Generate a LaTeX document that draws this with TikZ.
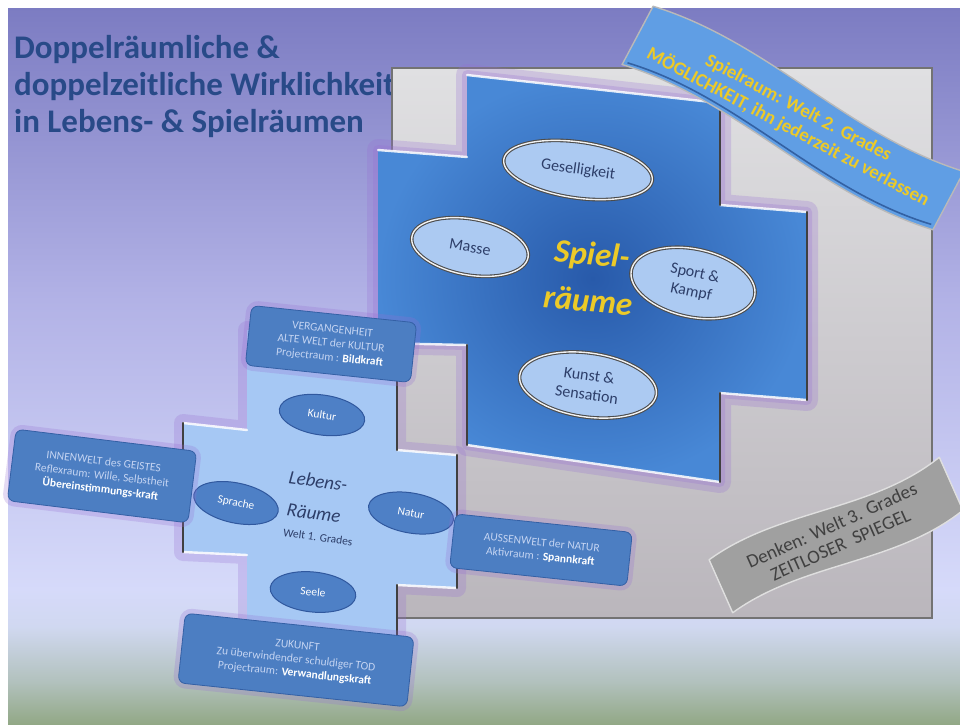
\documentclass[tikz,border=0pt]{standalone}
\usepackage{fontspec}
\setmainfont{Carlito}
\usetikzlibrary{positioning, shapes.geometric, calc}
\definecolor{bgA}{RGB}{124,124,194}
\definecolor{bgB}{RGB}{178,178,230}
\definecolor{bgC}{RGB}{214,218,250}
\definecolor{bgD}{RGB}{208,216,240}
\definecolor{bgE}{RGB}{176,192,186}
\definecolor{bgF}{RGB}{146,168,134}
\definecolor{sqtop}{RGB}{224,224,226}
\definecolor{sqbot}{RGB}{186,182,188}
\definecolor{spblue}{RGB}{72,136,214}
\definecolor{spdark}{RGB}{40,90,170}
\definecolor{lbblue}{RGB}{166,200,244}
\definecolor{ovblue}{RGB}{172,202,242}
\definecolor{ovink}{RGB}{45,62,105}
\definecolor{lbfill}{RGB}{78,128,198}
\definecolor{lbline}{RGB}{48,88,158}
\definecolor{boxfill}{RGB}{76,126,194}
\definecolor{boxline}{RGB}{52,96,165}
\definecolor{boxtext}{RGB}{196,212,242}
\definecolor{haze}{RGB}{150,110,210}
\definecolor{ttlblue}{RGB}{40,74,136}
\definecolor{yel}{RGB}{236,202,40}
\definecolor{banblue}{RGB}{96,158,228}
\definecolor{bangray}{RGB}{160,160,160}
\tikzset{
  ttl/.style={anchor=base west,text=ttlblue,
    font=\fontsize{33}{37}\selectfont\bfseries,inner sep=0pt},
  spov/.style={ellipse,draw=black!70,double=gray!10,double distance=1.4pt,
    line width=1.1pt,fill=ovblue,text=ovink,align=center,inner sep=0pt,
    font=\fontsize{16}{19}\selectfont},
  lbov/.style={ellipse,draw=lbline,line width=1pt,fill=lbfill,text=white,
    align=center,inner sep=0pt,font=\fontsize{11.5}{12}\selectfont,
    minimum width=86pt,minimum height=40pt},
  infobox/.style={rectangle,rounded corners=7pt,draw=boxline,line width=.8pt,
    fill=boxfill,text=boxtext,align=center,font=\fontsize{11.5}{14}\selectfont,
    inner sep=4pt,preaction={draw=haze,line width=10pt,opacity=.25}},
  glowline/.style={draw=haze,line width=#1,opacity=.25,line join=round},
  bevel/.style={white,line width=2.4pt,opacity=.85,line cap=round},
  shadowedge/.style={black!75,line width=2.2pt,line cap=round},
  banner/.style={line width=1.4pt,line join=round}
}
\begin{document}
\begin{tikzpicture}[x=1pt,y=-1pt]
\useasboundingbox (0,0) rectangle (960,724);
\fill[white] (0,0) rectangle (960,724);
\shade[top color=bgA,bottom color=bgB] (8,8) rectangle (960,300);
\shade[top color=bgB,bottom color=bgC] (8,299) rectangle (960,590);
\shade[top color=bgC,bottom color=bgD] (8,589) rectangle (960,628);
\shade[top color=bgD,bottom color=bgE] (8,627) rectangle (960,685);
\shade[top color=bgE,bottom color=bgF] (8,684) rectangle (960,724);

\node[ttl] (title1) at (14,58) {Doppelräumliche \&};
\node[ttl] (title2) at (14,95) {doppelzeitliche Wirklichkeit};
\node[ttl] (title3) at (14,132) {in Lebens- \& Spielräumen};

% grey mirror square
\shade[top color=sqtop,bottom color=sqbot,draw=black!55,line width=1.2pt]
  (392,68) rectangle (932,618);

% Spielraeume cross
\path[glowline=22pt] (467,75) -- (720,103) -- (720,205) -- (807,212) -- (807,400) -- (720,393) -- (720,482)
  -- (467,445) -- (467,345) -- (378,343) -- (378,150) -- (467,157) -- cycle;
\path[glowline=10pt] (467,75) -- (720,103) -- (720,205) -- (807,212) -- (807,400) -- (720,393) -- (720,482)
  -- (467,445) -- (467,345) -- (378,343) -- (378,150) -- (467,157) -- cycle;
\shade[inner color=spdark,outer color=spblue] (467,75) -- (720,103) -- (720,205) -- (807,212) -- (807,400)
  -- (720,393) -- (720,482) -- (467,445) -- (467,345) -- (378,343) -- (378,150) -- (467,157) -- cycle;
\draw[bevel] (467,75) -- (720,103);
\draw[bevel] (378,150) -- (467,157);
\draw[bevel] (720,205) -- (807,212);
\draw[bevel] (378,343) -- (467,345);
\draw[bevel] (720,393) -- (807,400);
\draw[bevel] (467,445) -- (720,482);
\draw[shadowedge] (720,103) -- (720,205);
\draw[shadowedge] (807,212) -- (807,400);
\draw[shadowedge] (720,393) -- (720,482);
\draw[shadowedge] (467,345) -- (467,445);

\node[spov,minimum width=150pt,minimum height=56pt,rotate=-8] (gesel) at (578,170) {Geselligkeit};
\node[spov,minimum width=118pt,minimum height=56pt,rotate=-10] (masse) at (470,247) {Masse};
\node[spov,minimum width=126pt,minimum height=68pt,rotate=-12] (sport) at (693,283) {Sport \&\\Kampf};
\node[spov,minimum width=138pt,minimum height=64pt,rotate=-8] (kunst) at (588,385) {Kunst \&\\Sensation};
\node[text=yel,font=\fontsize{33}{47}\selectfont\bfseries\itshape,align=center,rotate=-5] (spiel) at (590,277) {Spiel-\\räume};

% Lebensraeume cross
\path[glowline=18pt] (247,330) -- (397,345) -- (397,450) -- (457,455) -- (457,588) -- (397,585) -- (397,680)
  -- (247,665) -- (247,555) -- (183,552) -- (183,423) -- (247,430) -- cycle;
\fill[lbblue] (247,330) -- (397,345) -- (397,450) -- (457,455) -- (457,588) -- (397,585) -- (397,680)
  -- (247,665) -- (247,555) -- (183,552) -- (183,423) -- (247,430) -- cycle;
\draw[bevel] (183,423) -- (247,430);
\draw[bevel] (397,450) -- (457,455);
\draw[bevel] (183,552) -- (247,555);
\draw[bevel] (397,585) -- (457,588);
\draw[shadowedge] (397,345) -- (397,450);
\draw[shadowedge] (457,455) -- (457,588);
\draw[shadowedge] (397,585) -- (397,680);
\draw[shadowedge] (183,423) -- (183,552);

\node[lbov,rotate=-8] (kultur) at (322,415) {Kultur};
\node[lbov,rotate=-12] (sprache) at (236,503) {Sprache};
\node[lbov,rotate=-10] (natur) at (411,513) {Natur};
\node[lbov,rotate=-6] (seele) at (313,592) {Seele};
\node[text=ovink,font=\fontsize{19}{32}\selectfont\itshape,align=center,rotate=-8] (lebens) at (316,497) {Lebens-\\Räume};
\node[text=ovink,font=\fontsize{11.5}{12}\selectfont,rotate=-8] (welt1) at (318,537) {Welt 1. Grades};

% info boxes
\node[infobox,minimum width=166pt,minimum height=60pt,rotate=-6] (verg) at (331,344)
  {VERGANGENHEIT\\ALTE WELT der KULTUR\\Projectraum : \textcolor{white}{\bfseries Bildkraft}};
\node[infobox,minimum width=182pt,minimum height=72pt,rotate=-7] (innen) at (102,476)
  {INNENWELT des GEISTES\\Reflexraum: Wille, Selbstheit\\\textcolor{white}{\bfseries Übereinstimmungs-kraft}};
\node[infobox,minimum width=178pt,minimum height=54pt,rotate=-6] (aussen) at (541,550)
  {AUSSENWELT der NATUR\\Aktivraum : \textcolor{white}{\bfseries Spannkraft}};
\node[infobox,minimum width=230pt,minimum height=70pt,rotate=-6] (zukunft) at (296,660)
  {ZUKUNFT\\Zu überwindender schuldiger TOD\\Projectraum: \textcolor{white}{\bfseries Verwandlungskraft}};

% banners
\begin{scope}[shift={(793,118)},rotate=-28]
  \draw[banner,draw=gray!55,fill=banblue] (-176,-33) .. controls (-57,-56) and (57,-10) .. (176,-33)
    -- (176,33) .. controls (57,56) and (-57,10) .. (-176,33) -- cycle;
  \draw[line width=1.6pt,draw=spdark!80!black,opacity=.7] (-172,29) .. controls (-57,6) and (57,52) .. (172,29);
\end{scope}
\node[text=yel,font=\fontsize{19}{22}\selectfont\bfseries,align=center,rotate=-28] (spielraum) at (793,118)
  {Spielraum: Welt 2. Grades\\MÖGLICHKEIT, ihn jederzeit zu verlassen};
\begin{scope}[shift={(836,535)},rotate=24]
  \draw[banner,draw=gray!25,fill=bangray] (-126,-29) .. controls (-42,-47) and (42,-7) .. (126,-29)
    -- (126,29) .. controls (42,51) and (-42,11) .. (-126,29) -- cycle;
\end{scope}
\node[text=black!75,font=\fontsize{19}{21}\selectfont,align=center,rotate=24] (denken) at (836,535)
  {Denken: Welt 3. Grades\\ZEITLOSER\ \ SPIEGEL};
\end{tikzpicture}
\end{document}
